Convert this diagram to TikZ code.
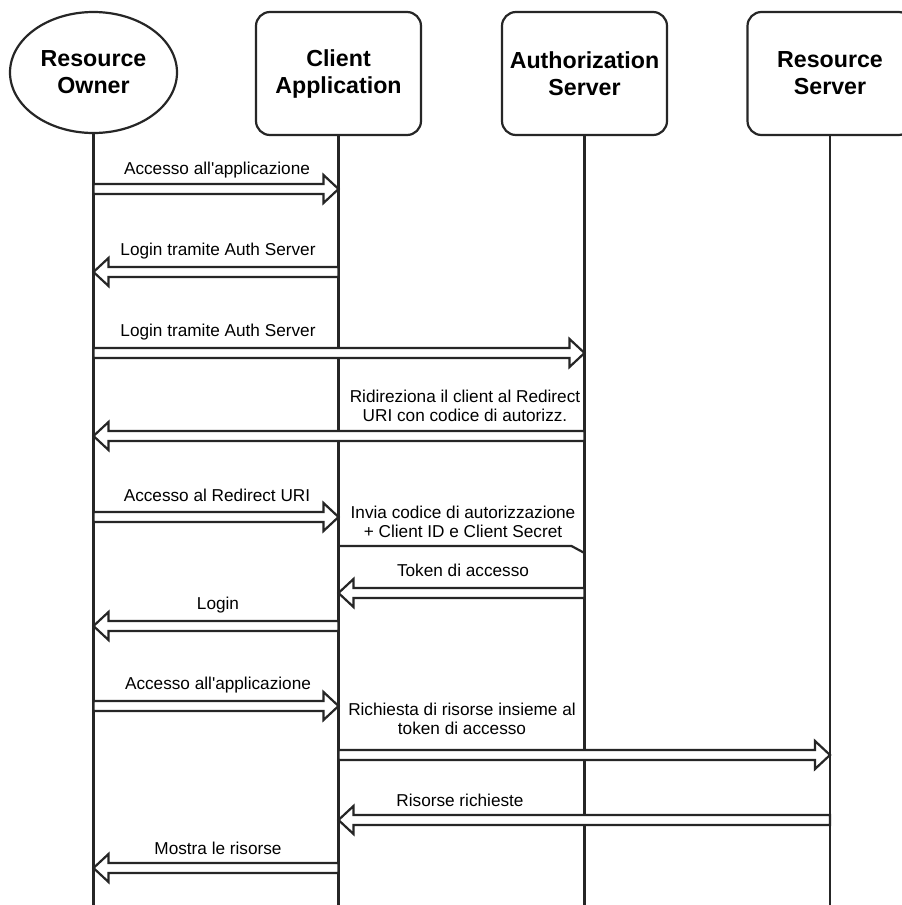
\documentclass[tikz,border=0pt]{standalone}
\usepackage{fontspec}
\setmainfont{Liberation Sans}[Ligatures=TeXOff]
\usetikzlibrary{shapes.geometric,calc}
\begin{document}
\begin{tikzpicture}[x=1pt,y=-1pt,
  ln/.style={draw=black!85, line width=2.2pt},
  head/.style={ln, fill=white, minimum width=165pt, minimum height=123pt, inner sep=0pt,
    align=center, font=\fontsize{23.2}{27}\selectfont\bfseries},
  boxhead/.style={head, rectangle, rounded corners=14pt},
  ovhead/.style={head, ellipse, minimum width=167pt, minimum height=121pt},
  life/.style={ln},
  lab/.style={inner sep=0pt, align=center, font=\fontsize{17.2}{18.5}\selectfont},
  fat/.style={ln, fill=white, to path={let \p1=(\tikztostart), \p2=(\tikztotarget),
     \n1={ifthenelse(\x2>\x1,1,-1)} in
     (\x1,\y1+5pt) -- (\x2-\n1*15pt,\y1+5pt) -- (\x2-\n1*15pt,\y1+14pt) -- (\x2,\y1)
     -- (\x2-\n1*15pt,\y1-14pt) -- (\x2-\n1*15pt,\y1-5pt) -- (\x1,\y1-5pt) -- cycle}}
]
\useasboundingbox (0,0) rectangle (902,905);
\clip (0,0) rectangle (902,905);
\fill[white] (0,0) rectangle (902,905);

% heads
\node[ovhead] (ro) at (93.5,72.5) {Resource\\Owner};
\node[boxhead] (ca) at (338.5,73.5) {Client\\Application};
\node[boxhead] (as) at (584.5,73.5) {Authorization\\Server};
\node[boxhead] (rs) at (830,73.5) {Resource\\Server};

% lifelines
\coordinate (roe) at (ro.south |- 0,910);
\coordinate (cae) at (ca.south |- 0,910);
\coordinate (ase) at (as.south |- 0,910);
\coordinate (rse) at (rs.south |- 0,910);
\draw[life] (ro.south) -- (roe);
\draw[life] (ca.south) -- (cae);
\draw[life] (as.south) -- (ase);
\draw[life] (rs.south) -- (rse);

% messages
\draw[fat] (ro |- 0,189) to (ca |- 0,189);
\node[lab] (l1) at (217,170) {Accesso all'applicazione};

\draw[fat] (ca |- 0,272) to (ro |- 0,272);
\node[lab] (l2) at (218,251) {Login tramite Auth Server};

\draw[fat] (ro |- 0,353) to (as |- 0,353);
\node[lab] (l3) at (218,332) {Login tramite Auth Server};

\draw[fat] (as |- 0,436) to (ro |- 0,436);
\node[lab] (l4) at (465,406) {Ridireziona il client al Redirect\\URI con codice di autorizz.};

\draw[fat] (ro |- 0,517) to (ca |- 0,517);
\node[lab] (l5) at (217,495) {Accesso al Redirect URI};

\draw[ln, line join=miter] (ca |- 0,546) -- ($(as |- 0,546)+(-13,0)$) -- (as |- 0,553);
\node[lab] (l6) at (463,522) {Invia codice di autorizzazione\\+ Client ID e Client Secret};

\draw[fat] (as |- 0,593) to (ca |- 0,593);
\node[lab] (l7) at (463,570) {Token di accesso};

\draw[fat] (ca |- 0,626) to (ro |- 0,626);
\node[lab] (l8) at (218,605) {Login};

\draw[fat] (ro |- 0,706) to (ca |- 0,706);
\node[lab] (l9) at (218,685) {Accesso all'applicazione};

\draw[fat] (ca |- 0,755) to (rs |- 0,755);
\node[lab] (l10) at (462,719) {Richiesta di risorse insieme al\\token di accesso};

\draw[fat] (rs |- 0,820) to (ca |- 0,820);
\node[lab] (l11) at (460,800) {Risorse richieste};

\draw[fat] (ca |- 0,868) to (ro |- 0,868);
\node[lab] (l12) at (218,848) {Mostra le risorse};
\end{tikzpicture}
\end{document}
